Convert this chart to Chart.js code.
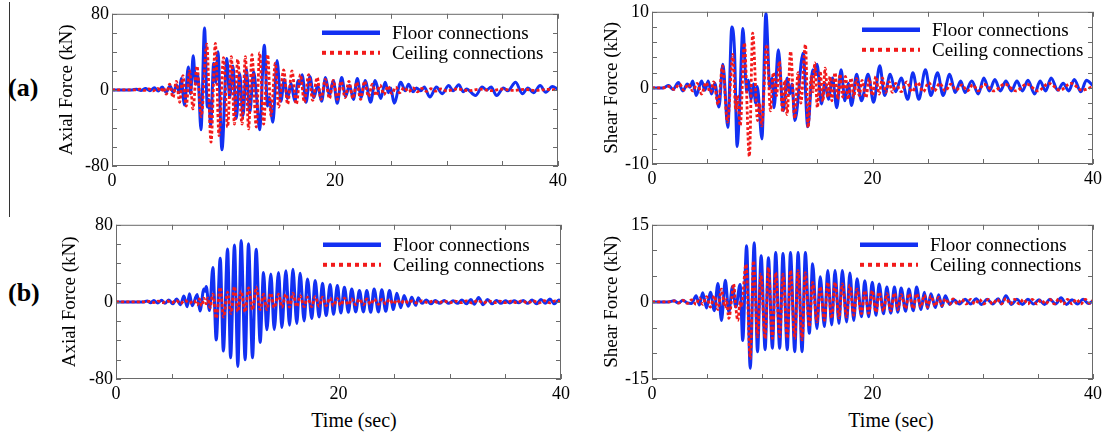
<!DOCTYPE html>
<html>
<head>
<meta charset="utf-8">
<script src="https://cdn.jsdelivr.net/npm/chart.js@4.4.1/dist/chart.umd.min.js"></script>
<style>
  body { margin: 0; background: #fff; width: 1107px; height: 432px; overflow: hidden; position: relative; font-family: "Liberation Serif", serif; }
  .panel { position: absolute; }
  .tag { position: absolute; font-weight: bold; font-size: 26px; line-height: 26px; }
  .xlabel { position: absolute; font-size: 20px; line-height: 20px; transform: translateX(-50%); white-space: nowrap; }
  #divider { position: absolute; left: 9px; top: 2px; width: 1px; height: 215px; background: #333; }
</style>
</head>
<body>
<div id="divider"></div>
<div class="tag" style="left:8px; top:75px">(a)</div>
<div class="tag" style="left:8px; top:280px">(b)</div>
<div class="xlabel" style="left:354px; top:410px">Time (sec)</div>
<div class="xlabel" style="left:891px; top:410px">Time (sec)</div>

<script>
// tick labels
const timeTicks = [0, 20, 40];
const axialTicks = [-80, 0, 80];
const shearATicks = [-10, 0, 10];
const shearBTicks = [-15, 0, 15];

const seriesNames = ['Floor connections', 'Ceiling connections'];

// (a) axial force, [time s, kN]
const aAxialFloor = [[0,0],[1.8,0],[2.2,0.8],[2.6,-0.6],[3.0,1.4],[3.4,-0.8],[3.8,2.2],[4.15,-1.2],[4.5,3],[4.85,-2.5],[5.2,4],[5.5,-2.5],[5.8,5],[6.05,-3],[6.2,12],[6.5,-16],[6.85,24],[7.05,-4],[7.28,36],[7.5,6],[7.7,16],[7.98,-42],[8.3,65],[8.55,-18],[8.68,-10],[8.85,-37],[9.12,28],[9.3,8],[9.5,40],[9.86,-63],[10.3,33],[10.55,-8],[10.85,25],[11.15,-30],[11.45,17],[11.75,-27],[12.05,22],[12.35,-24],[12.7,19],[12.95,-5],[13.24,-42],[13.66,47],[13.95,-17],[14.1,-8],[14.43,-34],[14.8,31],[15.15,-12],[15.45,11],[15.75,-9],[16.05,7],[16.4,-12],[16.7,10],[16.85,6],[17.05,16],[17.4,-13],[17.75,14],[18.1,-8],[18.45,5],[18.8,-12],[19.15,13],[19.5,-6],[19.85,10],[20.2,-14],[20.6,13],[20.95,-7],[21.3,5],[21.65,-10],[22.0,12],[22.35,-8],[22.7,10],[23.2,-13],[23.6,10],[24.1,-9],[24.5,8],[24.8,-3],[25.0,2],[25.3,-14],[25.9,8],[26.3,-1],[26.6,6],[27.0,-2],[27.3,2],[27.7,-1],[28.0,3],[28.5,-7.5],[29.1,3],[29.6,-4],[30.2,4.5],[30.6,-1],[31.1,5.5],[31.5,-2],[31.8,1],[32.6,-6],[33.2,3],[33.6,0],[34.0,3],[34.5,-6],[35.1,2],[35.5,-1],[36.2,8],[36.8,-4],[37.3,2],[37.8,-3],[38.4,4.5],[38.9,-2.5],[39.5,3.5],[40,0.5]];
const aAxialCeiling = [[0,0],[2.0,0],[2.5,0.8],[2.9,-0.6],[3.3,1],[3.7,-1],[4.1,1.5],[4.4,-1.5],[4.6,2.5],[4.87,-4.5],[5.17,6],[5.47,-8],[5.77,9],[6.07,-13],[6.36,15],[6.66,-17],[6.96,20],[7.26,-20],[7.62,25],[8.0,-28],[8.5,48],[8.88,-55],[9.27,49],[9.6,-48],[10.0,34],[10.37,-39],[10.7,35],[10.98,-36],[11.27,32],[11.66,-36],[11.96,35],[12.25,-41],[12.55,37],[12.94,-39],[13.24,39],[13.6,-36],[13.96,37],[14.26,-27],[14.65,28],[14.94,-18],[15.4,21],[15.75,-15],[16.14,20],[16.53,-15],[16.9,16],[17.25,-13],[17.64,16],[18.0,-11],[18.4,13],[18.74,-10],[19.13,11],[19.5,-9],[19.85,10],[20.2,-10],[20.55,9],[20.9,-8],[21.25,9],[21.6,-9],[21.95,8],[22.3,-10],[22.65,9],[23.0,-7],[23.35,6],[23.7,-6],[24.05,5],[24.4,-5],[24.75,4],[25.1,-4],[25.45,3],[25.8,-3],[26.2,2.5],[26.6,-2],[27.0,2],[27.4,-2],[27.8,1.5],[28.2,-1.5],[28.6,1.2],[29.0,-1.2],[29.5,1],[30.0,-1],[31.0,1],[32.0,-0.8],[33.0,0.8],[34.0,-0.8],[35.0,0.8],[36.0,-0.6],[37.0,0.6],[38.0,-0.6],[39.0,0.5],[40,0]];

// (a) shear force
const aShearFloor = [[0,0],[1.0,0],[1.5,0.3],[1.9,-0.2],[2.4,0.7],[2.8,-0.4],[3.2,0.5],[3.45,0.1],[3.7,0.9],[4.0,-1.0],[4.5,0.9],[4.8,-0.3],[5.1,0.9],[5.4,-0.8],[5.7,0.6],[6.07,-2.5],[6.43,3.1],[6.88,-5.2],[7.24,8.0],[7.48,5],[7.72,-7.7],[7.93,-3],[8.25,7.8],[8.5,1],[8.6,-0.5],[8.72,1],[9.0,-1.5],[9.2,0.5],[9.4,-2],[9.55,0.2],[9.97,-6.7],[10.33,9.8],[10.7,0],[10.9,1.3],[11.07,-2.6],[11.46,5.0],[11.9,-3.0],[12.27,1.3],[12.5,-0.8],[12.7,0.5],[12.96,-4.3],[13.71,4.6],[14.13,-5.1],[14.58,2.4],[14.75,1.8],[14.97,3.1],[15.36,-2.1],[15.7,0.6],[16.0,-1.5],[16.37,1.3],[16.76,-2.6],[17.15,2.4],[17.5,-1.7],[17.8,0.6],[18.1,-2.3],[18.56,1.8],[19.0,-1.7],[19.6,1.8],[20.1,-1.9],[20.66,2.9],[21.1,-1.0],[21.6,1.8],[22.1,-0.5],[22.6,1.3],[23.2,-1.5],[23.66,2.0],[24.2,-1.5],[24.8,2.4],[25.3,-1.0],[25.9,2.0],[26.4,-1.0],[27.0,1.8],[27.5,-0.6],[28.0,0.9],[28.4,-0.6],[29.0,0.9],[29.6,-0.8],[30.1,1.3],[30.6,-0.4],[31.1,1.1],[31.6,-0.4],[32.1,0.9],[32.6,-0.4],[33.1,0.9],[33.6,-0.4],[34.1,1.0],[34.7,-0.8],[35.2,0.9],[35.7,-0.4],[36.2,1.3],[36.8,-0.3],[37.3,0.6],[37.8,-0.4],[38.3,1.1],[38.9,-0.5],[39.4,1.0],[40,0.3]];
const aShearCeiling = [[0,0],[1.0,0],[1.5,0.2],[2.0,-0.2],[2.5,0.5],[2.9,-0.3],[3.3,0.5],[3.7,-0.4],[4.1,0.6],[4.5,-0.8],[4.9,0.7],[5.3,-0.6],[5.6,0.8],[6.0,-2.2],[6.4,2.9],[6.85,-4.5],[7.33,4.4],[7.6,-3],[7.75,-1],[8.0,-5],[8.38,5.9],[8.83,-9.0],[9.13,7.2],[9.58,-4.3],[9.75,-2],[9.95,-5],[10.4,5.7],[10.75,-3],[11.0,2],[11.3,-1],[11.55,3.5],[11.85,-3.2],[12.05,1],[12.25,-3.5],[12.57,4.8],[12.95,-4],[13.25,2],[13.5,-2],[13.92,5.7],[14.16,-5.2],[14.45,1.5],[14.6,-0.5],[14.76,3.3],[15.0,-2.6],[15.25,2.2],[15.5,-1.8],[15.7,2.6],[15.95,-1.2],[16.15,1.5],[16.3,-1.7],[16.6,2.0],[16.85,-1.5],[17.05,1.8],[17.3,-1.2],[17.55,1.5],[17.8,-1.5],[18.05,1.3],[18.3,-1.2],[18.55,1.2],[18.8,-1.0],[19.05,1.0],[19.4,-1.3],[19.7,1.2],[20.0,-1.0],[20.3,1.5],[20.6,-0.8],[20.9,1.3],[21.2,-0.6],[21.5,0.8],[21.8,-0.6],[22.1,0.6],[22.6,-0.5],[23.1,0.8],[23.6,-0.5],[24.1,0.7],[24.6,-0.5],[25.1,0.7],[25.6,-0.4],[26.1,0.6],[26.6,-0.4],[27.1,0.5],[27.6,-0.3],[28.1,0.4],[28.6,-0.4],[29.1,0.4],[29.6,-0.4],[30.1,0.5],[31.0,-0.4],[32.0,0.5],[33.0,-0.4],[34.0,0.5],[35.0,-0.4],[36.0,0.6],[37.0,-0.3],[38.0,0.6],[39.0,-0.3],[40,0.2]];

// (b) axial force
const bAxialFloor = [[0,0],[2.5,0],[2.8,1],[3.1,-0.8],[3.4,1.5],[3.75,-1.2],[4.1,1.8],[4.4,-1.5],[4.75,2],[5.1,-2],[5.45,3],[5.8,-3],[6.1,6],[6.4,-5],[6.6,8.4],[6.85,-4],[7.3,7.7],[7.55,-9.5],[7.9,13.5],[8.0,11],[8.11,16],[8.4,-9],[8.71,35.8],[9.01,-39.5],[9.37,45.4],[9.65,-51],[10.03,55],[10.3,-58],[10.65,59],[10.95,-67],[11.25,63.8],[11.61,-60],[11.91,60.4],[12.27,-58],[12.6,54.6],[12.96,-42],[13.26,30.6],[13.56,-29],[13.92,29],[14.22,-28.6],[14.61,30.6],[14.91,-26.5],[15.27,32.3],[15.6,-24.1],[15.9,34],[16.25,-22.4],[16.55,29.6],[16.91,-19.7],[17.21,23.8],[17.6,-17.3],[17.9,22.1],[18.26,-15.6],[18.56,19.3],[18.89,-14.2],[19.25,18],[19.55,-12.9],[19.9,16.9],[20.21,-11.5],[20.53,15.2],[20.89,-10.8],[21.19,13.5],[21.55,-10.4],[21.88,11.8],[22.24,-10.4],[22.54,11.8],[22.9,-10.8],[23.2,13.5],[23.59,-10.4],[23.89,12.5],[24.25,-9.8],[24.58,11.8],[24.94,-8],[25.24,9],[25.6,-6],[25.9,6.7],[26.28,-4.6],[26.58,4.9],[26.94,-3.6],[27.18,4.3],[27.5,-1.5],[27.9,2],[28.3,-2],[28.7,1.5],[29.1,-1.5],[29.5,1.5],[29.9,-1.5],[30.3,1.2],[30.7,-1.5],[31.1,2],[31.5,-2],[31.9,2.5],[32.2,-2.5],[32.6,4.5],[33.0,-3],[33.4,2.5],[33.8,-2],[34.2,1.5],[34.6,-1.5],[35.0,1.2],[35.4,-1.2],[35.8,1.2],[36.2,-1],[36.6,1.5],[37.0,-1.5],[37.4,2],[37.8,-2],[38.2,2.5],[38.6,-1.5],[39.0,3],[39.4,-2],[39.8,2],[40,0]];
const bAxialCeiling = [[0,0],[2.5,0],[3.0,0.6],[3.4,-0.6],[3.8,0.8],[4.2,-0.8],[4.6,1],[5.0,-1],[5.4,1.5],[5.8,-1.5],[6.2,1.5],[6.6,-1.2],[7.0,1.5],[7.3,-3],[7.5,3],[7.7,-4],[7.9,4],[8.1,-2],[8.25,4],[8.45,-6],[8.71,8],[9.01,-17],[9.37,15],[9.67,-15.6],[10.03,10],[10.33,-12],[10.65,16],[10.95,-10],[11.25,11],[11.61,-10.5],[11.91,14.5],[12.27,-8.2],[12.6,15],[12.96,-8],[13.26,8],[13.56,-8],[13.92,9],[14.22,-6],[14.61,8],[14.91,-5.5],[15.27,8],[15.6,-5.5],[15.9,9],[16.25,-5],[16.55,6.5],[16.91,-5],[17.21,5],[17.6,-5],[17.9,5.5],[18.26,-4.5],[18.56,5],[18.89,-4],[19.25,4],[19.55,-4],[19.9,3.5],[20.21,-3.5],[20.53,4],[20.89,-3],[21.19,3],[21.55,-3],[21.88,2.8],[22.24,-3],[22.54,3],[22.9,-2.5],[23.2,3],[23.59,-2.5],[23.89,2.5],[24.25,-2],[24.58,2.5],[24.94,-2],[25.24,2],[25.6,-1.5],[25.9,1.5],[26.3,-1],[26.6,1],[27.0,-1],[27.5,1],[28.0,-0.8],[28.5,0.8],[29.0,-0.8],[29.5,0.8],[30.0,-0.8],[30.5,0.8],[31.0,-0.8],[31.5,1],[32.0,-1.2],[32.5,1.5],[33.0,-1],[33.5,1],[34.0,-0.8],[34.5,0.8],[35.0,-0.8],[35.5,0.8],[36.0,-0.8],[36.5,1],[37.0,-1],[37.5,1],[38.0,-1.2],[38.5,1.2],[39.0,-1],[39.5,1],[40,0]];

// (b) shear force
const bShearFloor = [[0,0],[1.5,0],[2.0,0.2],[2.4,-0.2],[2.8,0.3],[3.2,-0.2],[3.6,-0.3],[4.0,1.2],[4.3,-0.6],[4.6,1.8],[4.95,-1.2],[5.3,1.9],[5.65,-1.7],[5.98,3.6],[6.3,-3.6],[6.65,4.2],[6.97,-2.0],[7.3,3.0],[7.6,-1],[7.99,3.4],[8.23,-7.5],[8.58,10.9],[8.91,-12.9],[9.27,11.5],[9.57,-9.7],[9.9,9.0],[10.26,-9.3],[10.56,8.6],[10.92,-9.0],[11.22,9.6],[11.58,-9.0],[11.88,9.4],[12.27,-9.3],[12.56,9.6],[12.95,-9.7],[13.25,9.6],[13.61,-9.7],[13.91,9.6],[14.27,-6.1],[14.57,7.4],[14.96,-5.2],[15.26,4.9],[15.64,-4.8],[15.94,6.1],[16.3,-4.5],[16.6,6.1],[16.96,-4.2],[17.26,6.1],[17.65,-3.9],[17.95,5.6],[18.3,-3.6],[18.6,4.5],[19.0,-2.9],[19.3,4.1],[19.65,-2.9],[19.98,3.8],[20.32,-2.6],[20.6,3.5],[21.0,-2.3],[21.3,2.9],[21.66,-2.2],[21.99,2.9],[22.3,-2.0],[22.6,2.7],[23.0,-1.8],[23.3,2.5],[23.7,-1.7],[24.0,2.9],[24.4,-1.5],[24.7,1.9],[25.0,-1.3],[25.3,1.6],[25.7,-1.1],[26.0,1.4],[26.3,-0.9],[26.6,1.2],[27.0,-0.5],[27.4,0.4],[27.9,-0.4],[28.4,0.5],[28.9,-0.4],[29.4,0.6],[29.9,-0.5],[30.4,0.5],[30.9,-0.4],[31.4,0.6],[31.7,-0.4],[32.1,1.2],[32.6,-0.5],[33.1,0.5],[33.6,-0.5],[34.1,0.5],[34.6,-0.4],[35.1,0.4],[35.6,-0.5],[36.1,0.5],[36.6,-0.4],[37.1,0.8],[37.6,-0.5],[38.1,0.4],[38.6,-0.4],[39.1,0.5],[39.6,-0.3],[40,0.2]];
const bShearCeiling = [[0,0],[1.5,0],[2.0,0.2],[2.4,-0.2],[2.8,0.3],[3.2,-0.3],[3.6,0.4],[4.0,-0.5],[4.3,0.8],[4.6,-0.5],[4.95,1.0],[5.3,-1.0],[5.65,1.2],[5.98,-1.5],[6.3,2.5],[6.6,-1.0],[6.75,0.5],[6.97,-3.2],[7.25,1],[7.4,3.5],[7.6,-1],[7.78,-3.6],[8.0,0],[8.1,-1],[8.53,7.3],[8.91,-11],[9.21,8.0],[9.57,-6.8],[9.87,5.4],[10.26,-7.1],[10.56,6.7],[10.92,-7.1],[11.22,5.7],[11.58,-6.8],[11.88,5.4],[12.27,-7.1],[12.56,6.1],[12.95,-7.1],[13.25,6.1],[13.61,-7.4],[13.9,5.7],[14.27,-4.8],[14.57,3.8],[14.96,-3.9],[15.26,2.9],[15.64,-3.6],[15.94,3.8],[16.3,-3.2],[16.6,3.8],[16.96,-3.1],[17.26,3.5],[17.65,-2.9],[17.95,3.2],[18.3,-2.6],[18.6,2.5],[19.0,-2.3],[19.3,2.2],[19.65,-2.2],[19.98,2.2],[20.32,-2.0],[20.6,1.9],[21.0,-1.8],[21.3,1.6],[21.66,-1.7],[21.99,1.7],[22.3,-1.5],[22.6,1.4],[23.0,-1.3],[23.3,1.6],[23.7,-1.3],[24.0,1.6],[24.4,-1.0],[24.7,1.3],[25.0,-1.0],[25.3,1.1],[25.7,-0.8],[26.0,0.9],[26.3,-0.7],[26.6,0.6],[27.0,-0.5],[27.3,0.6],[27.7,-0.4],[28.1,0.5],[28.5,-0.4],[28.9,0.5],[29.3,-0.4],[29.7,0.5],[30.1,-0.4],[30.5,0.5],[30.9,-0.4],[31.3,0.5],[31.7,-0.4],[32.1,0.7],[32.5,-0.4],[32.9,0.5],[33.3,-0.4],[33.7,0.5],[34.1,-0.4],[34.5,0.5],[34.9,-0.4],[35.3,0.4],[35.7,-0.4],[36.1,0.5],[36.5,-0.4],[36.9,0.6],[37.3,-0.4],[37.7,0.5],[38.1,-0.4],[38.5,0.5],[38.9,-0.4],[39.3,0.5],[39.7,-0.3],[40,0.3]];

const BLUE = '#1230f2';
const RED = '#f21a1a';
const FONT = '"Liberation Serif", "Times New Roman", serif';

// layout of each panel: plot box [left, top, right, bottom] on the page
const panels = [
  { box: [112, 12, 558, 166], titleX: 67, title: 'Axial Force (kN)', range: 80, step: 20, labels: axialTicks, floor: aAxialFloor, ceil: aAxialCeiling, padR: 14, legX: 210, legY: 19 },
  { box: [652, 10, 1097, 164], titleX: 612, title: 'Shear Force (kN)', range: 10, step: 2, labels: shearATicks, floor: aShearFloor, ceil: aShearCeiling, padR: 9, legX: 210, legY: 18 },
  { box: [116, 223, 561, 379], titleX: 70, title: 'Axial Force (kN)', range: 80, step: 20, labels: axialTicks, floor: bAxialFloor, ceil: bAxialCeiling, padR: 14, legX: 207, legY: 20 },
  { box: [652, 223, 1097, 379], titleX: 612, title: 'Shear Force (kN)', range: 15, step: 5, labels: shearBTicks, floor: bShearFloor, ceil: bShearCeiling, padR: 9, legX: 208, legY: 20 }
];

function toPoints(pairs) {
  return pairs.map(p => ({ x: p[0], y: p[1] }));
}

// frame with inward tick marks on all four sides, plus the legend
const framePlugin = {
  id: 'frame',
  afterDraw(chart) {
    const { ctx, chartArea: a, scales: { x, y } } = chart;
    const cfg = chart.options.plugins.frame;
    ctx.save();
    ctx.strokeStyle = '#6a6a6a';
    ctx.lineWidth = 1;
    ctx.strokeRect(a.left + 0.5, a.top + 0.5, a.right - a.left - 1, a.bottom - a.top - 1);
    ctx.beginPath();
    x.ticks.forEach(t => {
      const px = Math.round(x.getPixelForValue(t.value)) + 0.5;
      ctx.moveTo(px, a.bottom); ctx.lineTo(px, a.bottom - 5);
      ctx.moveTo(px, a.top); ctx.lineTo(px, a.top + 5);
    });
    y.ticks.forEach(t => {
      const py = Math.round(y.getPixelForValue(t.value)) + 0.5;
      ctx.moveTo(a.left, py); ctx.lineTo(a.left + 5, py);
      ctx.moveTo(a.right, py); ctx.lineTo(a.right - 5, py);
    });
    ctx.stroke();

    // legend
    const lx = a.left + cfg.legX, ly = a.top + cfg.legY;
    ctx.lineWidth = 4.5;
    ctx.strokeStyle = BLUE;
    ctx.beginPath(); ctx.moveTo(lx, ly); ctx.lineTo(lx + 58, ly); ctx.stroke();
    ctx.strokeStyle = RED;
    ctx.lineWidth = 4;
    ctx.setLineDash([4, 4]);
    ctx.beginPath(); ctx.moveTo(lx, ly + 20); ctx.lineTo(lx + 58, ly + 20); ctx.stroke();
    ctx.setLineDash([]);
    ctx.fillStyle = '#000';
    ctx.font = '19px ' + FONT;
    ctx.textBaseline = 'middle';
    ctx.fillText(seriesNames[0], lx + 70, ly + 1);
    ctx.fillText(seriesNames[1], lx + 70, ly + 21);
    ctx.restore();
  }
};

function makePanel(p) {
  const padT = 12, xh = 28;
  const [L, T, R, B] = p.box;
  const left = Math.round(p.titleX - 11.4);
  const yw = L - left;
  const W = yw + (R - L) + p.padR;
  const H = (B - T) + padT + xh;

  const wrap = document.createElement('div');
  wrap.className = 'panel';
  wrap.style.left = left + 'px';
  wrap.style.top = (T - padT) + 'px';
  const canvas = document.createElement('canvas');
  canvas.width = W;
  canvas.height = H;
  canvas.style.width = W + 'px';
  canvas.style.height = H + 'px';
  wrap.appendChild(canvas);
  document.body.appendChild(wrap);

  const tickFont = { family: FONT, size: 18 };
  new Chart(canvas.getContext('2d'), {
    type: 'line',
    data: {
      datasets: [
        { label: seriesNames[1], data: toPoints(p.ceil), borderColor: RED, borderWidth: 2.8, borderDash: [3, 2.2], pointRadius: 0, cubicInterpolationMode: 'monotone', order: 0 },
        { label: seriesNames[0], data: toPoints(p.floor), borderColor: BLUE, borderWidth: 3, pointRadius: 0, cubicInterpolationMode: 'monotone', order: 1 }
      ]
    },
    options: {
      responsive: false,
      animation: false,
      devicePixelRatio: 1,
      layout: { padding: { top: padT, right: p.padR, bottom: 0, left: 0 } },
      plugins: {
        legend: { display: false },
        tooltip: { enabled: false },
        frame: { legX: p.legX, legY: p.legY }
      },
      scales: {
        x: {
          type: 'linear', min: 0, max: 40,
          grid: { display: false, drawTicks: false },
          border: { display: false },
          ticks: {
            stepSize: 5, autoSkip: false, maxRotation: 0, padding: 4, color: '#000', font: tickFont,
            callback: v => timeTicks.includes(v) ? String(v) : ''
          },
          afterFit: s => { s.height = xh; }
        },
        y: {
          min: -p.range, max: p.range,
          grid: { display: false, drawTicks: false },
          border: { display: false },
          ticks: {
            stepSize: p.step, autoSkip: false, padding: 3, color: '#000', font: tickFont,
            callback: v => p.labels.includes(v) ? String(v) : ''
          },
          title: { display: true, text: p.title, color: '#000', font: { family: FONT, size: 19 }, padding: 0 },
          afterFit: s => { s.width = yw; }
        }
      }
    },
    plugins: [framePlugin]
  });
}

panels.forEach(makePanel);
</script>
</body>
</html>
